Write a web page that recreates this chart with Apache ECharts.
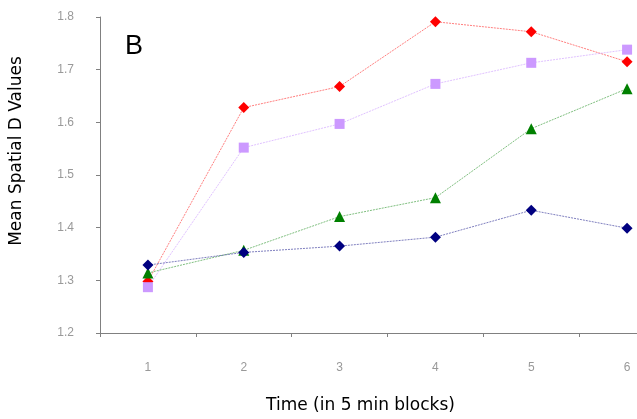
<!DOCTYPE html>
<html><head><meta charset="utf-8">
<script src="https://cdn.jsdelivr.net/npm/echarts@6/dist/echarts.min.js"></script>
<style>html,body{margin:0;padding:0;background:#fff;overflow:hidden;width:637px;height:419px}#c{width:675px;height:419px}</style>
</head><body><div id="c"></div>
<script>
const categories = ['1','2','3','4','5','6'];
const redValues = [1.298, 1.628, 1.668, 1.791, 1.772, 1.715];
const lavenderValues = [1.287, 1.552, 1.597, 1.673, 1.713, 1.738];
const greenValues = [1.314, 1.357, 1.421, 1.457, 1.588, 1.664];
const navyValues = [1.329, 1.353, 1.365, 1.382, 1.433, 1.399];
const yTicks = [1.2, 1.3, 1.4, 1.5, 1.6, 1.7, 1.8];

const chart = echarts.init(document.getElementById('c'));
function s(name, data, color, lineColor, symbol, size) {
  return {
    name, type: 'line', data, symbol, symbolSize: size,
    itemStyle: { color },
    lineStyle: { color: lineColor, width: 1, type: [2, 1] },
    animation: false
  };
}
chart.setOption({
  animation: false,
  title: { text: 'B', left: 120, top: 28, textStyle: { fontFamily: 'Liberation Sans', fontSize: 27, fontWeight: 'normal', color: '#000' } },
  grid: { left: 99, top: 17, bottom: 85, right: 0 },
  xAxis: {
    type: 'category', data: categories, boundaryGap: true,
    axisLine: { lineStyle: { color: '#808080', width: 1 } },
    axisTick: { show: true, length: 4, lineStyle: { color: '#808080' } },
    axisLabel: { margin: 29, color: '#999', fontFamily: 'Liberation Sans', fontSize: 12 },
    name: 'Time (in 5 min blocks)', nameLocation: 'middle', nameGap: 64,
    nameTextStyle: { fontFamily: 'DejaVu Sans', fontSize: 17, color: '#000', padding: [0, 54, 0, 0] }
  },
  yAxis: {
    type: 'value', min: 1.2, max: 1.8, interval: 0.1,
    axisLine: { show: true, lineStyle: { color: '#808080', width: 1 } },
    axisTick: { show: true, length: 4, lineStyle: { color: '#808080' } },
    splitLine: { show: false },
    axisLabel: { margin: 26, color: '#999', fontFamily: 'Liberation Sans', fontSize: 12, formatter: v => v.toFixed(1) },
    name: 'Mean Spatial D Values', nameLocation: 'middle', nameGap: 75,
    nameTextStyle: { fontFamily: 'DejaVu Sans', fontSize: 17, color: '#000', padding: [0, 0, 0, 48] }
  },
  series: [
    s('red', redValues, '#ff0000', 'rgba(255,0,0,0.5)', 'diamond', 11),
    s('lavender', lavenderValues, '#cc99ff', 'rgba(204,153,255,0.6)', 'rect', 10),
    s('green', greenValues, '#008000', 'rgba(0,128,0,0.5)', 'triangle', 11),
    s('navy', navyValues, '#000080', 'rgba(0,0,128,0.5)', 'diamond', 11)
  ]
});
</script></body></html>
